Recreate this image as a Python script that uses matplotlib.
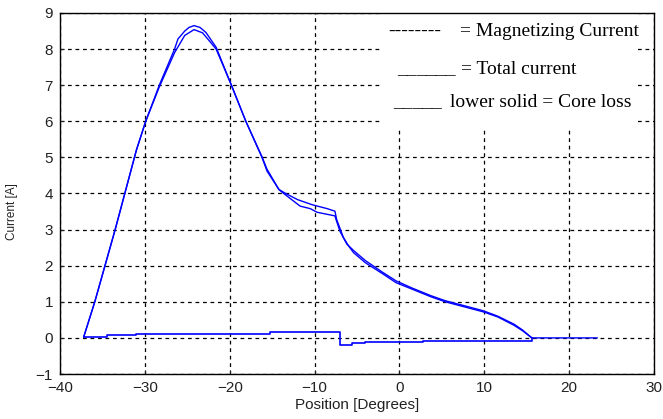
import matplotlib
matplotlib.use("Agg")
import matplotlib.pyplot as plt
from matplotlib.patches import Rectangle

# total current (upper of the two close curves)
total_x = [-37.2, -35.9, -33.5, -31.0, -29.9, -28.3, -26.5, -26.1, -25.3, -24.8, -24.2,
           -23.5, -22.8, -21.6, -19.8, -18.1, -16.2, -15.6, -14.2, -13.4, -12.0, -10.3,
           -8.5, -7.6, -7.4, -6.6, -6.0, -5.4, -4.0, -2.0, -0.4, 1.5, 3.7, 5.4, 7.5,
           9.9, 11.6, 13.5, 14.5, 15.6, 23.3]
total_y = [0.03, 1.0, 3.0, 5.2, 6.0, 7.0, 8.0, 8.28, 8.5, 8.6, 8.65,
           8.6, 8.46, 8.05, 7.0, 6.0, 5.02, 4.67, 4.11, 4.0, 3.83, 3.69,
           3.58, 3.51, 3.28, 2.78, 2.55, 2.36, 2.08, 1.78, 1.53, 1.35, 1.14, 1.0, 0.87,
           0.72, 0.58, 0.35, 0.2, 0.0, 0.0]

# magnetizing current (slightly lower curve)
mag_x = [-37.2, -35.9, -33.5, -31.0, -29.9, -28.3, -26.5, -25.3, -24.2, -23.2, -22.3,
         -21.6, -19.8, -18.1, -16.2, -15.6, -14.2, -13.8, -11.7, -10.5, -9.7, -7.6,
         -7.5, -7.0, -6.2, -5.4, -4.0, -2.0, -0.4, 1.5, 3.7, 5.4, 7.5, 9.9, 11.6,
         13.5, 14.5, 15.6]
mag_y = [0.03, 1.0, 3.0, 5.2, 6.0, 6.95, 7.9, 8.38, 8.54, 8.45, 8.2,
         8.0, 7.0, 6.0, 5.0, 4.62, 4.11, 4.03, 3.65, 3.58, 3.48, 3.38,
         3.3, 2.95, 2.6, 2.42, 2.14, 1.82, 1.58, 1.38, 1.17, 1.03, 0.9, 0.75, 0.6,
         0.38, 0.22, 0.0]

# core loss (stepped lower line)
core_x = [-37.2, -34.5, -31.1, -15.2, -7.0, -5.6, -4.0, 2.8, 15.6]
core_y = [0.03, 0.08, 0.12, 0.16, -0.19, -0.15, -0.11, -0.08, 0.0]

xticks = [-40, -30, -20, -10, 0, 10, 20, 30]
yticks = [-1, 0, 1, 2, 3, 4, 5, 6, 7, 8, 9]

W, H = 663, 419
fig = plt.figure(figsize=(6.63, 4.19), dpi=100)
ax = fig.add_axes([60 / W, 45 / H, 594 / W, 361 / H])

ax.plot(total_x, total_y, color="blue", lw=1.0, zorder=3)
ax.plot(mag_x, mag_y, color="blue", lw=1.0, zorder=3)
ax.step(core_x, core_y, where="post", color="blue", lw=1.2, zorder=3)

ax.set_xlim(-40, 30)
ax.set_ylim(-1, 9)
ax.set_xticks(xticks)
ax.set_yticks(yticks)
ax.tick_params(direction="in", length=3, labelsize=11, colors="#222222",
               pad=5)
for lab in ax.get_xticklabels() + ax.get_yticklabels():
    lab.set_fontfamily("Liberation Sans")
ax.grid(True, color="black", linestyle=(0, (3, 3)), lw=0.9)
ax.set_axisbelow(True)
for sp in ax.spines.values():
    sp.set_linewidth(1.0)
    sp.set_zorder(6)

ax.set_xlabel("Position [Degrees]", fontsize=11, family="Liberation Sans",
              labelpad=2, color="#222222")
ax.set_ylabel("Current [A]", fontsize=8.5, family="Liberation Sans",
              color="#222222")
ax.yaxis.set_label_coords(-0.07, 0.45)

# white note box covering the grid
ax.add_patch(Rectangle((-2.0, 5.8), 30.1, 3.2, facecolor="white",
                       edgecolor="none", zorder=4))

serif = dict(family="Liberation Serif", fontsize=14, va="baseline", ha="left",
             color="black", zorder=5)
fig.text(388 / W, 1 - 36 / H, "--------", **serif)
fig.text(460 / W, 1 - 36 / H, "= Magnetizing Current", **serif)
fig.text(397 / W, 1 - 74 / H, "______", **serif)
fig.text(461 / W, 1 - 74 / H, "= Total current", **serif)
fig.text(393 / W, 1 - 107 / H, "_____", **serif)
fig.text(450 / W, 1 - 107 / H, "lower solid = Core loss", **serif)

fig.savefig("out.png", dpi=100)
